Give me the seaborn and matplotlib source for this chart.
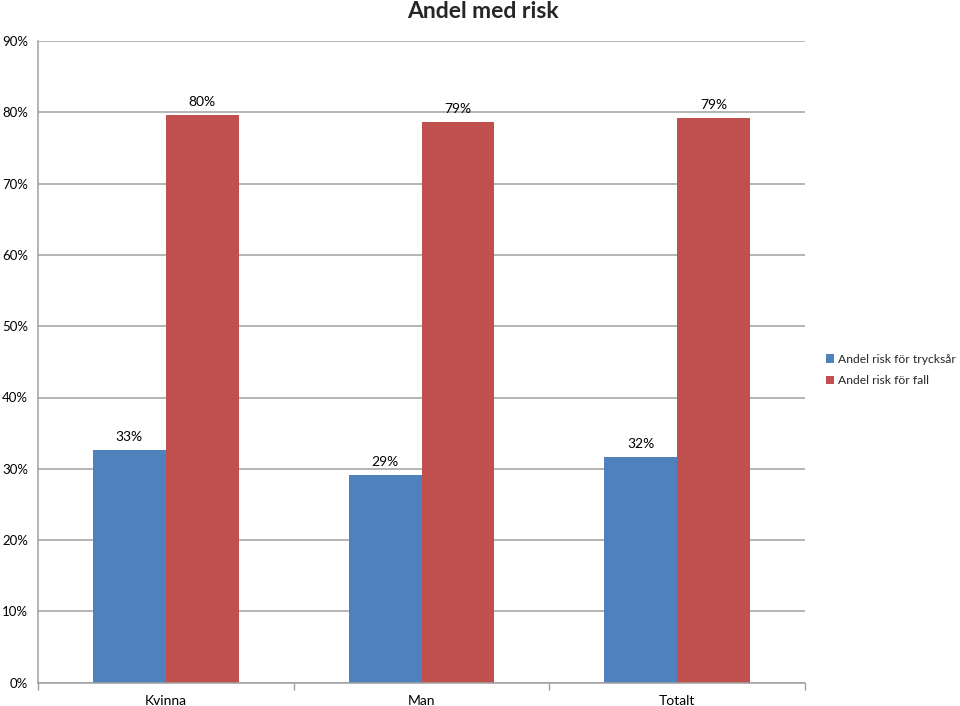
import matplotlib
matplotlib.use("Agg")
import matplotlib.pyplot as plt
import seaborn as sns
import pandas as pd
from matplotlib.ticker import FixedLocator, FuncFormatter, NullFormatter

categories = ["Kvinna", "Man", "Totalt"]
series_names = ["Andel risk för trycksår", "Andel risk för fall"]
tryck_values = [32.6, 29.1, 31.6]
fall_values = [79.6, 78.6, 79.2]
y_ticks = [0, 10, 20, 30, 40, 50, 60, 70, 80, 90]
title = "Andel med risk"

colors = ["#4F81BD", "#C0504D"]

df = pd.DataFrame({
    "Kategori": categories * 2,
    "Serie": [series_names[0]] * 3 + [series_names[1]] * 3,
    "Värde": tryck_values + fall_values,
})

sns.set_theme(style="white")
plt.rcParams["font.family"] = ["Lato", "DejaVu Sans"]

fig = plt.figure(figsize=(9.6, 7.06), dpi=100)
ax = fig.add_axes([38 / 960, 1 - 682.7 / 706, (805 - 38) / 960, (682.7 - 41) / 706])

sns.barplot(data=df, x="Kategori", y="Värde", hue="Serie", order=categories,
            hue_order=series_names, palette=colors, width=0.57, gap=0,
            saturation=1, ax=ax, linewidth=0, legend=True)

ax.set_xlim(-0.5, 2.5)
ax.set_ylim(0, 90)
ax.set_yticks(y_ticks)
ax.yaxis.set_major_formatter(FuncFormatter(lambda v, p: f"{int(v)}%"))
ax.grid(axis="y", color="#A0A0A0", linewidth=1.1)
ax.set_axisbelow(True)
ax.set_xlabel("")
ax.set_ylabel("")

for s in ["top", "right"]:
    ax.spines[s].set_visible(False)
for s in ["left", "bottom"]:
    ax.spines[s].set_color("#A0A0A0")
    ax.spines[s].set_linewidth(1.1)

ax.tick_params(axis="y", labelsize=9.5, labelcolor="black", length=0, pad=7)
ax.tick_params(axis="x", which="major", length=0, labelsize=10, labelcolor="black", pad=9)
ax.xaxis.set_minor_locator(FixedLocator([-0.5, 0.5, 1.5, 2.5]))
ax.xaxis.set_minor_formatter(NullFormatter())
ax.tick_params(axis="x", which="minor", length=5, width=1, color="#A0A0A0",
               direction="out", bottom=True)

for cont in ax.containers:
    ax.bar_label(cont, labels=[f"{v:.0f}%" for v in cont.datavalues],
                 fontsize=10, padding=5, color="black")

fig.text(483 / 960, 1 - 11 / 706, title, ha="center", va="center",
         fontsize=16.5, fontweight="bold")

handles, labels = ax.get_legend_handles_labels()
ax.get_legend().remove()
fig.legend(handles, labels, loc="center left", bbox_to_anchor=(826 / 960, 1 - 370 / 706),
           frameon=False, fontsize=8.7, handlelength=0.7, handleheight=0.7,
           handletextpad=0.3, labelspacing=0.85, borderaxespad=0, borderpad=0)

fig.savefig("out.png", dpi=100)
